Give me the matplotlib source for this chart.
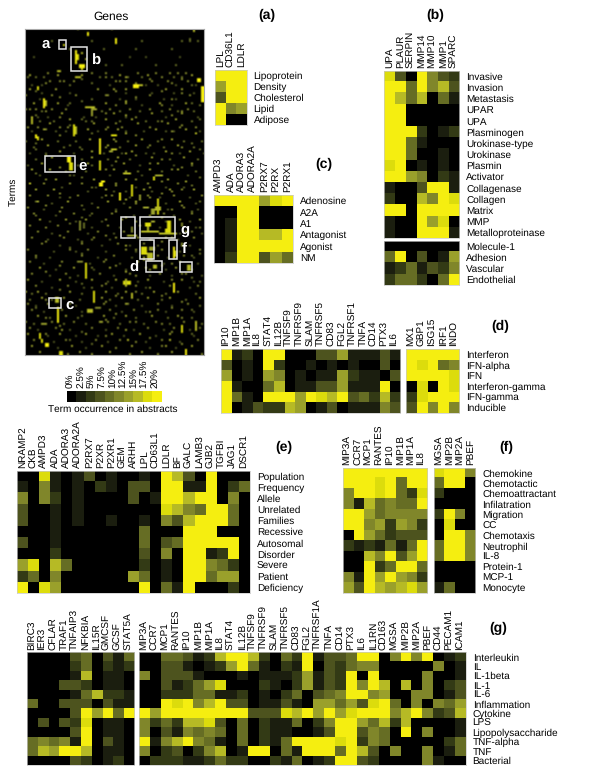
import matplotlib
matplotlib.use("Agg")
import matplotlib.pyplot as plt
import numpy as np
from matplotlib.colors import ListedColormap, LinearSegmentedColormap
from matplotlib.patches import Rectangle

plt.rcParams["font.family"] = ["Liberation Sans", "DejaVu Sans"]
plt.rcParams["text.hinting"] = "no_hinting"
plt.rcParams["text.hinting_factor"] = 1

W, H = 600, 776

# ten colour steps of the legend, 0% to 20% and above
level_colors = ["#000000", "#1b1e0f", "#333a15", "#4d531e", "#666d24",
                "#80862a", "#9aa02b", "#b6ba25", "#dcdc0c", "#f5ee10"]
legend_labels = ["0%", "2.5%", "5%", "7.5%", "10%", "12.5%", "15%", "17.5%", "20%"]

# ***** panel data: one digit per cell, 0-9 *****
a_genes = ["LPL", "CD36L1", "LDLR"]
a_terms = ["Lipoprotein", "Density", "Cholesterol", "Lipid", "Adipose"]
a_vals = ["999", "699", "399", "956", "900"]

b_genes = ["UPA", "PLAUR", "SERPIN", "MMP14", "MMP10", "MMP1", "SPARC"]
b_terms = ["Invasive", "Invasion", "Metastasis", "UPAR", "UPA", "Plasminogen",
           "Urokinase-type", "Urokinase", "Plasmin", "Activator", "Collagenase",
           "Collagen", "Matrix", "MMP", "Metalloproteinase"]
b_vals = ["8309532", "9949573", "9747041", "9900000", "9900000", "9992012",
          "9941000", "9940010", "8901010", "9965021", "1003991", "2007598",
          "9909999", "1009680", "1009991"]
b2_terms = ["Molecule-1", "Adhesion", "Vascular", "Endothelial"]
b2_vals = ["0000000", "4903016", "1241325", "2442049"]

c_genes = ["AMPD3", "ADA", "ADORA3", "ADORA2A", "P2RX7", "P2RX", "P2RX1"]
c_terms = ["Adenosine", "A2A", "A1", "Antagonist", "Agonist", "NM"]
c_vals = ["9999689", "0099000", "0199000", "0199779", "0199999", "0299364"]

d_genes = ["IP10", "MIP1B", "MIP1A", "IL8", "STAT4", "IL12B", "TNFSF9", "TNFRSF9",
           "SLAM", "TNFRSF5", "CD83", "FGL2", "TNFRSF1", "TNFA", "CD14", "PTX3", "IL6"]
d_vals = ["91209900033611131", "30109200101010030", "60106501011621103",
          "91004701133611190", "94109996987934272", "90132276013011153"]
d2_genes = ["MX1", "GBP1", "ISG15", "IRF1", "INDO"]
d_terms = ["Interferon", "IFN-alpha", "IFN", "Interferon-gamma", "IFN-gamma", "Inducible"]
d2_vals = ["99999", "98945", "99998", "08098", "28999", "39595"]

e_genes = ["NRAMP2", "CKB", "AMPD3", "ADA", "ADORA3", "ADORA2A", "P2RX7", "P2XR",
           "P2XR1", "GEM", "ARHH", "LPL", "CD63L1", "LDLR", "BF", "GALC", "LAMB3",
           "GJB2", "TGFBI", "JAG1", "DSCR1"]
e_terms = ["Population", "Frequency", "Allele", "Unrelated", "Families", "Recessive",
           "Autosomal", "Disorder", "Severe", "Patient", "Deficiency"]
e_vals = ["008101301001097309000", "105101021033099119024", "505201000030199799050",
          "300101000000087549940", "300101001001053799940", "000100000004000999000",
          "300100000004034999990", "000200000003050991290", "680740000002010995420",
          "240500000064010994660", "908600000009041900020"]

f_genes = ["MIP3A", "CCR7", "MCP1", "RANTES", "IP10", "MIP1B", "MIP1A", "IL8"]
f_terms = ["Chemokine", "Chemotactic", "Chemoattractant", "Infilatration", "Migration",
           "CC", "Chemotaxis", "Neutrophil", "IL-8", "Protein-1", "MCP-1", "Monocyte"]
f_vals = ["99999999", "99989499", "59989428", "51745449", "99645555", "99562652",
          "09642333", "21214149", "00759369", "00924994", "51969652", "63976786"]
f2_genes = ["MGSA", "MIP2B", "MIP2A", "PBEF"]
f2_vals = ["8995", "4990", "2000", "0000", "2950", "0800", "0995", "4995", "4995",
           "0000", "0000", "1400"]

g_genes = ["BIRC3", "IER3", "CFLAR", "TRAF1", "TNFAIP3", "NFKBIA", "IL15R", "GMCSF",
           "GCSF", "STAT5A"]
g_terms = ["Interleukin", "IL", "IL-1beta", "IL-1", "IL-6", "Inflammation", "Cytokine",
           "LPS", "Lipopolysaccharide", "TNF-alpha", "TNF", "Bacterial"]
g_vals = ["0000340314", "0000240212", "0000170110", "0003320110", "0000147221",
          "4003330311", "0000396949", "0303280110", "0000390110", "4545190310",
          "4769970110", "0000320120"]
g2_genes = ["MIP3A", "CCR7", "MCP1", "RANTES", "IP10", "MIP1B", "MIP1A", "IL8", "STAT4",
            "IL12B", "TNFSF9", "TNFRSF9", "SLAM", "TNFRSF5", "CD83", "FGL2", "TNFRSF1A",
            "TNFA", "CD14", "PTX3", "IL6", "IL1RN", "CD163", "MGSA", "MIP2B", "MIP2A",
            "PBEF", "CD44", "PECAM1", "ICAM1"]
g2_vals = ["004431279972042913349905959012", "003310126941021903245500000501",
           "503331000101112613290900005001", "003124680002102613295970705023",
           "002224411201024034599560055013", "009895793301131066463894050546",
           "969999999933387969689995795237", "524277830402114025996472700001",
           "503154540402110013993540905001", "915795410402149999892540000024",
           "502302570199041999497305005014", "022211242200214012993200005100"]

# ***** overview map on a 2 pixel grid, 90 genes x 163 terms *****
# bright patches: first gene, last gene, first term, last term, level
overview_patches = [
    (31, 31, 2, 3, 9), (45, 45, 5, 7, 9), (19, 19, 8, 8, 8), (25, 25, 11, 17, 9),
    (26, 26, 13, 15, 8), (27, 29, 18, 19, 9), (28, 28, 20, 20, 8), (30, 30, 15, 15, 6),
    (28, 28, 12, 12, 7), (54, 56, 28, 29, 9), (57, 58, 28, 28, 7), (86, 87, 25, 26, 9),
    (88, 89, 29, 36, 9), (9, 9, 35, 39, 9), (10, 10, 36, 38, 7), (6, 6, 29, 30, 8),
    (30, 34, 39, 39, 7), (33, 35, 40, 40, 6), (33, 33, 41, 43, 6), (24, 24, 48, 53, 8),
    (25, 25, 49, 52, 7), (3, 3, 44, 47, 7), (43, 45, 53, 53, 8), (5, 5, 53, 54, 9),
    (16, 17, 21, 21, 7), (25, 27, 24, 24, 7), (82, 82, 5, 6, 4), (84, 84, 1, 1, 7),
    (85, 85, 52, 52, 7), (6, 6, 54, 55, 8), (37, 37, 55, 62, 9), (37, 37, 66, 70, 8),
    (43, 45, 60, 60, 7), (42, 43, 61, 61, 6), (21, 22, 64, 66, 9), (22, 23, 67, 70, 8),
    (49, 52, 72, 72, 7), (38, 39, 76, 76, 9), (37, 38, 77, 78, 9), (64, 64, 74, 75, 8),
    (65, 68, 73, 73, 6), (53, 53, 78, 83, 8), (47, 47, 82, 85, 9), (57, 57, 83, 85, 6),
    (66, 66, 85, 92, 8), (65, 67, 89, 90, 7), (63, 64, 90, 92, 6), (59, 61, 89, 89, 6),
    (60, 62, 97, 98, 8), (63, 64, 96, 96, 6), (61, 61, 99, 100, 7), (71, 72, 96, 100, 8),
    (58, 66, 101, 101, 7), (67, 75, 102, 102, 7), (70, 72, 100, 101, 8), (53, 53, 99, 101, 5),
    (51, 55, 103, 103, 6), (27, 27, 96, 100, 5), (29, 29, 97, 99, 4), (80, 80, 76, 76, 6),
    (2, 2, 77, 77, 7), (58, 60, 109, 112, 8), (61, 63, 112, 115, 7), (62, 64, 109, 110, 6),
    (59, 59, 114, 115, 6), (74, 74, 109, 114, 9), (75, 75, 111, 113, 7), (30, 30, 117, 124, 8),
    (49, 52, 126, 127, 8), (50, 50, 125, 128, 7), (74, 74, 127, 131, 9), (34, 34, 131, 136, 8),
    (15, 16, 134, 136, 7), (16, 16, 139, 146, 9), (31, 33, 140, 141, 7), (35, 37, 139, 139, 5),
    (64, 65, 118, 119, 7), (81, 82, 118, 120, 7), (78, 78, 148, 151, 8), (85, 85, 146, 150, 7),
    (10, 11, 157, 158, 9), (7, 7, 152, 154, 8), (8, 8, 155, 156, 8), (17, 18, 161, 162, 8),
    (80, 80, 160, 162, 9), (26, 28, 116, 116, 5), (53, 53, 132, 134, 7), (18, 18, 150, 150, 6),
    (8, 10, 147, 147, 6), (72, 72, 155, 155, 7), (51, 51, 155, 155, 7), (37, 38, 146, 146, 6),
]

# dotted rows of the map: term, level, genes
overview_rows = [
    (0, 6, [26, 43, 84]), (6, 4, [13, 33, 58, 78, 86]), (10, 4, [22, 39, 55, 73]),
    (14, 3, [4, 36, 52, 60, 77]), (18, 4, [40, 48, 65, 75]), (22, 5, [11, 33, 40, 56, 65, 72, 76, 80]),
    (23, 6, [2, 16, 28, 47, 61, 83]), (24, 4, [1, 5, 9, 37, 43, 51, 58, 68, 74, 78]),
    (26, 5, [12, 19, 24, 47, 50, 63, 71, 81]), (28, 3, [3, 8, 42, 60, 66, 75, 85]),
    (30, 6, [2, 15, 36, 44, 70, 78]), (32, 3, [8, 22, 50, 63, 74, 84]),
    (33, 5, [0, 13, 25, 41, 62, 82]), (35, 3, [7, 33, 47, 55, 69, 75]),
    (37, 6, [4, 16, 40, 50, 67, 80]), (38, 3, [21, 45, 58, 73]),
    (40, 5, [0, 2, 5, 13, 20, 42, 52, 62, 72, 81]), (41, 4, [8, 38, 47, 57, 68, 76, 84]),
    (42, 6, [18, 44, 63, 78]), (44, 3, [6, 11, 29, 35, 50, 55, 70, 86]),
    (45, 6, [22, 40, 53, 75]), (46, 4, [7, 14, 30, 47, 60, 66, 83]),
    (47, 6, [12, 34, 56, 71]), (49, 5, [1, 6, 17, 21, 41, 48, 62, 77, 85]),
    (50, 6, [9, 31, 46, 65, 80]), (51, 3, [3, 15, 20, 36, 50, 59, 70, 74, 87]),
    (55, 6, [8, 32, 44, 58, 73]), (56, 4, [0, 16, 25, 51, 66, 79, 88]),
    (58, 6, [11, 41, 55, 76]), (59, 4, [4, 19, 27, 47, 61, 69, 84]),
    (61, 6, [17, 33, 53, 70, 82]), (62, 3, [2, 10, 24, 39, 48, 60, 64, 77, 89]),
    (64, 6, [13, 33, 46, 63, 79]), (65, 4, [5, 28, 41, 52, 72, 86]),
    (67, 6, [8, 31, 49, 66, 83]), (68, 3, [1, 26, 43, 57, 74]),
    (70, 6, [3, 12, 44, 62, 76]), (71, 4, [20, 30, 56, 68, 85]),
    (73, 3, [7, 24, 42, 58, 81]), (75, 6, [15, 34, 50, 71]),
    (77, 5, [9, 22, 28, 45, 61, 76]), (79, 3, [18, 35, 55, 70, 79]),
    (80, 6, [5, 14, 40, 59, 72, 84]), (81, 3, [31, 44, 50, 63]),
    (83, 5, [2, 11, 26, 43, 61, 74, 88]), (84, 3, [17, 38, 52, 67, 82]),
    (86, 6, [6, 21, 41, 55, 77]), (87, 3, [13, 33, 49, 70, 85]),
    (89, 5, [1, 18, 36, 52, 79]), (90, 3, [9, 29, 45, 71, 86]),
    (92, 5, [4, 24, 43, 69, 83]), (93, 3, [15, 32, 54, 74]),
    (95, 6, [7, 20, 30, 48, 77, 87]), (96, 3, [12, 25, 38, 55, 70, 82]),
    (98, 5, [2, 16, 41, 57, 78]), (99, 3, [10, 33, 47, 67, 85]),
    (101, 5, [6, 21, 36, 49, 80]), (102, 3, [13, 31, 44, 77, 88]),
    (104, 5, [3, 19, 34, 56, 70, 84]), (105, 3, [11, 26, 42, 63, 76]),
    (107, 5, [8, 28, 46, 59, 78]), (108, 3, [17, 38, 52, 66, 82]),
    (110, 5, [1, 22, 31, 50, 68, 87]), (111, 3, [14, 25, 40, 55, 77]),
    (113, 5, [5, 28, 44, 66, 79]), (114, 3, [12, 36, 53, 71, 84]),
    (116, 5, [2, 18, 39, 56, 77]), (117, 3, [9, 32, 47, 69, 86]),
    (119, 6, [7, 24, 42, 60, 75]), (120, 3, [15, 34, 50, 70, 83]),
    (122, 5, [3, 20, 37, 52, 67, 80]), (123, 3, [12, 26, 44, 62, 73, 88]),
    (125, 6, [1, 17, 33, 45, 61, 78]), (126, 3, [8, 25, 41, 56, 69, 84]),
    (128, 5, [5, 21, 38, 55, 72, 86]), (129, 3, [13, 29, 43, 60, 82]),
    (131, 6, [0, 6, 22, 40, 50, 64, 76]), (132, 4, [3, 10, 28, 46, 58, 70, 85]),
    (134, 6, [8, 19, 38, 48, 61, 72, 87]), (135, 4, [2, 13, 27, 42, 56, 68, 80]),
    (137, 5, [1, 11, 39, 51, 66, 81]), (138, 3, [5, 25, 45, 58, 73]),
    (140, 5, [3, 18, 42, 54, 66, 78]), (141, 3, [9, 28, 48, 60, 70, 84]),
    (143, 6, [6, 20, 39, 50, 63, 76]), (144, 4, [12, 26, 44, 55, 71, 83]),
    (146, 5, [0, 13, 24, 41, 52, 65, 79]), (147, 4, [4, 19, 30, 47, 59, 72, 88]),
    (149, 5, [2, 15, 33, 46, 61, 74]), (150, 3, [6, 22, 40, 54, 69, 82]),
    (152, 6, [1, 17, 30, 43, 57, 72]), (153, 3, [11, 25, 36, 49, 65, 84]),
    (155, 5, [4, 20, 35, 47, 68, 86]), (156, 3, [14, 28, 41, 60, 77]),
    (158, 6, [3, 23, 38, 53, 70, 83]), (159, 3, [16, 30, 45, 62, 75]),
    (161, 6, [7, 27, 42, 58, 73]), (162, 5, [21, 33, 52, 66, 88]),
]

# dotted columns of the map: gene, level, terms
overview_cols = [
    (5, 4, [24, 31, 43, 57, 60, 72, 86, 93, 114, 128, 139]),
    (10, 5, [27, 41, 50, 63, 75, 88, 99, 106, 121, 135, 144, 152]),
    (17, 5, [26, 34, 44, 53, 69, 82, 91, 103, 118, 130, 148]),
    (22, 4, [28, 37, 48, 58, 73, 84, 97, 109, 124, 137, 155]),
    (28, 4, [25, 36, 45, 60, 74, 88, 94, 106, 112, 127, 143, 151]),
    (33, 4, [27, 35, 46, 52, 68, 79, 92, 105, 119, 129, 149, 157]),
    (40, 5, [24, 33, 42, 50, 59, 70, 83, 95, 103, 115, 127, 136, 145, 153]),
    (45, 5, [26, 31, 38, 47, 56, 66, 78, 91, 104, 118, 133, 142, 159]),
    (50, 6, [24, 30, 36, 43, 52, 62, 71, 85, 94, 108, 121, 137, 150]),
    (55, 5, [27, 34, 44, 53, 63, 75, 87, 96, 110, 123, 131, 146, 156]),
    (62, 5, [25, 33, 40, 49, 58, 67, 79, 84, 93, 105, 120, 129, 141, 154]),
    (68, 5, [24, 31, 38, 46, 55, 65, 76, 82, 94, 106, 118, 133, 147, 158]),
    (73, 5, [27, 35, 43, 51, 62, 70, 81, 90, 104, 117, 125, 139, 151]),
    (78, 5, [25, 32, 41, 48, 59, 69, 80, 88, 97, 108, 122, 136, 144, 157]),
    (83, 4, [28, 37, 46, 57, 68, 78, 91, 101, 113, 124, 140, 152]),
    (87, 4, [38, 45, 60, 74, 86, 99, 112, 126, 138, 149]),
]

overview = np.zeros((163, 90))
for g0, g1, t0, t1, level in overview_patches:
    overview[t0:t1 + 1, g0:g1 + 1] = level
for term, level, genes in overview_rows:
    for gene in genes:
        overview[term, gene] = max(overview[term, gene], level)
for gene, level, terms in overview_cols:
    for term in terms:
        overview[term, gene] = max(overview[term, gene], level)

cmap = ListedColormap(level_colors)
fig = plt.figure(figsize=(W / 100, H / 100), dpi=100)


def pixel_axes(x0, y0, x1, y1):
    return fig.add_axes([x0 / W, 1 - y1 / H, (x1 - x0) / W, (y1 - y0) / H])


def put_text(x, y, s, **kw):
    fig.text(x / W, 1 - y / H, s, ha=kw.pop("ha", "center"), va=kw.pop("va", "center"), **kw)


def heat(box, rows, genes, terms=None):
    ax = pixel_axes(*box)
    cells = np.array([[int(c) for c in r] for r in rows])
    ax.imshow(cells, cmap=cmap, vmin=-0.5, vmax=9.5, aspect="auto", interpolation="nearest")
    ax.xaxis.tick_top()
    ax.set_xticks(range(len(genes)), genes, rotation=90, fontsize=7.3)
    if terms:
        ax.yaxis.tick_right()
        ax.set_yticks(range(len(terms)), terms, fontsize=7.3)
    else:
        ax.set_yticks([])
    ax.tick_params(length=0, pad=2)
    ax.tick_params(axis="y", pad=5)
    for s in ax.spines.values():
        s.set_color("#c8c8c8")
        s.set_linewidth(0.5)
    return ax


# overview, axes data are figure pixels
ax = pixel_axes(25, 29, 204, 355)
ax.imshow(overview, cmap=LinearSegmentedColormap.from_list("lv", level_colors),
          vmin=0, vmax=9, aspect="auto", interpolation="bilinear", extent=(25, 204, 355, 29))
ax.set_xticks([])
ax.set_yticks([])
for s in ax.spines.values():
    s.set_color("#a8a8a8")
    s.set_linewidth(0.8)

boxes = [(59, 40, 65.7, 49), (71.3, 47.3, 87, 71), (45.3, 156, 75, 172), (121, 216.7, 135.3, 238),
         (140.3, 217, 175, 238), (140.3, 240, 153.7, 259.3), (168.7, 240, 176.7, 259.3),
         (145.7, 261.3, 161.7, 271.7), (180.3, 261.7, 192, 271.7), (49.3, 297.7, 61.3, 308)]
for x0, y0, x1, y1 in boxes:
    ax.add_patch(Rectangle((x0, y0), x1 - x0, y1 - y0, fill=False, ec="#e4e4e4", lw=1.1))

box_letters = [(46, 44, "a"), (95.7, 61, "b"), (83, 165.7, "e"), (185, 230, "g"),
               (184.7, 249.3, "f"), (134, 268, "d"), (69.3, 305, "c")]
for x, y, s in box_letters:
    put_text(x, y, s, color="white", fontsize=10.5, fontweight="bold")

put_text(111, 17, "Genes", fontsize=8.5)
put_text(13, 192, "Terms", fontsize=7.5, rotation=90)

# legend
ax = pixel_axes(66.7, 390.7, 161, 401.7)
ax.imshow(np.arange(10)[None, :], cmap=cmap, vmin=-0.5, vmax=9.5, aspect="auto")
ax.xaxis.tick_top()
ax.set_xticks(np.linspace(0, 8.9, 9), legend_labels, rotation=90, fontsize=7.3)
ax.set_yticks([])
ax.tick_params(length=0, pad=2)
for s in ax.spines.values():
    s.set_visible(False)
put_text(113, 409, "Term occurrence in abstracts", fontsize=7.3)

# panels
heat((215, 70, 246.7, 125), a_vals, a_genes, a_terms)
heat((214, 195, 293, 263), c_vals, c_genes, c_terms)
heat((384, 70.7, 459.3, 238), b_vals, b_genes, b_terms)
heat((384, 240.7, 459.3, 285), b2_vals, [], b2_terms)
heat((221, 349, 400, 412.7), d_vals, d_genes)
heat((405.7, 349, 459.3, 412.7), d2_vals, d2_genes, d_terms)
heat((17, 470.7, 250, 592.7), e_vals, e_genes, e_terms)
heat((342.7, 467.7, 426.7, 592.7), f_vals, f_genes)
heat((434, 467.7, 475.3, 592.7), f2_vals, f2_genes, f_terms)
heat((26.7, 652.3, 134, 765), g_vals, g_genes)
heat((138.7, 652.3, 465.7, 765), g2_vals, g2_genes, g_terms)

panel_titles = [(267, 15, "(a)"), (435, 15, "(b)"), (324, 164, "(c)"), (500.7, 326, "(d)"),
                (284, 447.7, "(e)"), (506.7, 447.7, "(f)"), (498, 628, "(g)")]
for x, y, s in panel_titles:
    put_text(x, y, s, fontsize=10, fontweight="bold")

fig.savefig("out.png", dpi=100)
